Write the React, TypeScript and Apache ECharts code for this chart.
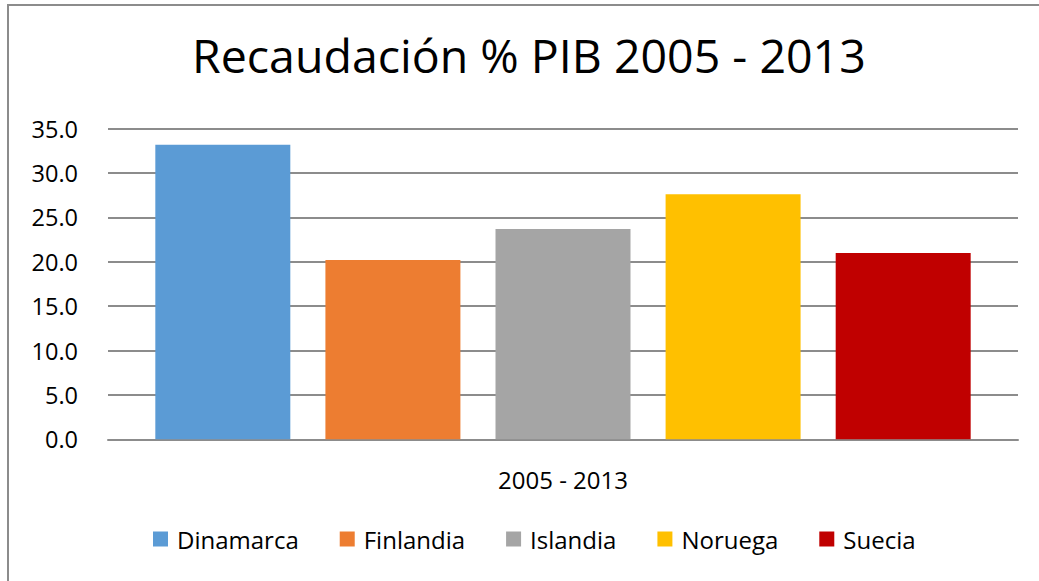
import React, { useEffect, useRef } from "react";
import * as echarts from "echarts";

const titleText = "Recaudación % PIB 2005 - 2013";
const categories = ["2005 - 2013"];
const countries = ["Dinamarca", "Finlandia", "Islandia", "Noruega", "Suecia"];
const values = [33.2, 20.2, 23.7, 27.6, 21.0];
const colors = ["#5B9BD5", "#ED7D31", "#A5A5A5", "#FFC000", "#C00000"];

const FONT = "'Open Sans', 'Noto Sans', sans-serif";

export default function App() {
  const ref = useRef<HTMLDivElement>(null);
  useEffect(() => {
    if (!ref.current) return;
    const chart = echarts.init(ref.current, null, { renderer: "svg" });
    chart.setOption({
      animation: false,
      backgroundColor: "#ffffff",
      textStyle: { fontFamily: FONT },
      title: {
        text: titleText,
        left: 192,
        top: 31,
        padding: 0,
        textStyle: { fontFamily: FONT, fontSize: 46.5, fontWeight: "normal", color: "#000" },
      },
      legend: {
        top: 527,
        left: 153,
        padding: 0,
        itemWidth: 15,
        itemHeight: 15,
        itemGap: 41,
        icon: "rect",
        data: countries,
        textStyle: { fontFamily: FONT, fontSize: 24, color: "#000", padding: [0, 0, 0, 4] },
      },
      grid: { left: 108, right: 21, top: 128.7, bottom: 141.7, containLabel: false },
      xAxis: {
        type: "category",
        data: categories,
        axisLine: { show: true, lineStyle: { color: "#8c8c8c", width: 2 } },
        axisTick: { show: false },
        axisLabel: { fontFamily: FONT, fontSize: 24, color: "#000", margin: 28 },
      },
      yAxis: {
        type: "value",
        min: 0,
        max: 35,
        interval: 5,
        axisLine: { show: false },
        axisTick: { show: false },
        splitLine: { lineStyle: { color: "#8c8c8c", width: 2 } },
        axisLabel: {
          fontFamily: FONT,
          fontSize: 23.5,
          color: "#000",
          margin: 30,
          formatter: (v: number) => v.toFixed(1),
        },
      },
      series: countries.map((name, i) => ({
        name,
        type: "bar",
        data: [values[i]],
        barGap: "26%",
        barCategoryGap: "10.4%",
        itemStyle: { color: colors[i] },
      })),
      graphic: [
        {
          type: "polyline",
          shape: { points: [[8, 581], [8, 5], [1039, 5]] },
          style: { stroke: "#8c8c8c", lineWidth: 2, fill: "none" },
          silent: true,
        },
      ],
    });
    return () => chart.dispose();
  }, []);
  return (
    <div
      ref={ref}
      style={{ position: "fixed", left: 0, top: 0, width: 1039, height: 581 }}
    />
  );
}
